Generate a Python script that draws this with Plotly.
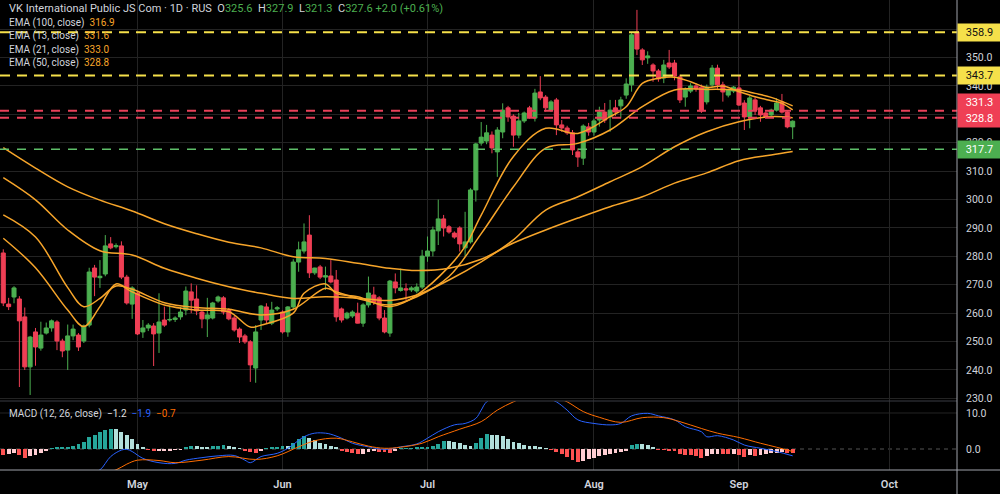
import plotly.graph_objects as go

# ---------------- data ----------------
opens = [281.2,263.2,265.7,265.0,258.7,241.1,253.4,247.7,253.0,254.8,256.9,250.2,247.0,252.0,252.3,250.2,255.8,275.9,272.5,273.8,
         284.4,283.4,283.7,272.7,263.2,267.1,253.4,254.8,255.5,253.0,257.6,257.6,257.8,258.7,261.1,267.5,265.0,260.4,258.0,258.3,
         264.3,265.4,261.1,258.3,254.4,252.0,249.9,240.7,257.6,262.2,256.5,261.5,260.4,253.4,262.2,278.0,281.9,287.5,274.2,276.3,
         272.7,273.1,271.7,261.5,258.3,259.0,260.0,256.5,262.9,266.4,265.4,258.3,253.0,271.0,268.0,268.6,268.2,267.8,269.2,280.1,
         281.9,289.0,293.2,290.4,288.2,290.0,283.0,285.1,303.4,319.9,320.6,322.7,316.8,323.8,332.3,329.4,322.7,327.7,332.3,328.7,
         337.9,336.1,331.5,335.1,326.3,325.2,323.5,316.8,314.6,325.6,323.8,328.0,330.8,329.1,332.3,333.0,336.8,340.4,359.0,352.7,
         349.9,347.4,345.3,342.8,348.1,348.1,343.2,336.1,338.2,340.0,339.6,334.4,340.4,346.3,340.4,336.8,338.2,339.3,334.0,329.1,
         335.1,332.3,330.5,329.8,331.5,334.4,330.8,325.6]
highs = [282.5,265.4,269.5,266.0,262.0,252.0,254.8,257.0,256.7,257.8,257.5,251.0,256.0,256.0,253.0,256.0,276.0,277.0,278.7,287.5,
         286.8,284.6,285.3,273.5,269.5,267.5,257.6,256.5,256.5,267.0,262.3,262.7,258.9,262.2,269.4,270.5,269.8,261.0,265.4,264.0,
         266.2,266.0,261.8,259.0,255.0,252.7,250.5,255.8,262.9,263.5,264.0,262.5,261.0,262.5,279.0,285.2,291.6,294.5,276.0,277.0,
         276.4,278.7,275.2,262.0,260.5,261.0,263.7,263.5,272.9,269.3,266.0,261.1,271.7,274.0,275.7,270.5,269.5,270.5,282.3,287.0,
         290.5,300.0,294.6,291.0,288.8,290.6,295.7,304.0,320.0,327.3,326.3,324.0,325.5,333.9,333.0,330.0,330.5,331.0,333.0,339.0,
         343.5,336.8,335.0,335.8,328.0,326.0,324.5,318.0,326.5,327.0,328.5,332.7,334.0,335.1,335.1,336.2,342.7,359.0,366.8,353.3,
         352.2,348.0,346.0,349.2,352.7,349.2,344.0,339.5,341.0,341.0,340.5,340.5,347.4,347.5,341.5,339.0,340.0,343.9,335.0,336.5,
         336.0,333.0,331.0,332.0,335.7,337.2,331.5,327.9]
lows = [262.5,261.1,263.5,234.0,240.0,231.2,241.5,246.8,252.5,253.5,247.0,244.5,240.0,250.5,246.7,249.5,255.0,266.0,268.9,273.0,
        282.5,282.8,272.0,263.0,258.0,252.3,251.3,253.7,241.4,246.0,255.2,257.0,256.9,257.7,259.3,260.0,259.3,254.7,251.6,257.8,
        263.7,259.5,257.5,253.5,249.5,249.2,235.8,235.5,254.1,256.5,255.8,260.8,252.8,251.7,261.5,274.6,281.0,272.4,273.5,272.0,
        268.2,270.5,257.0,256.7,257.8,258.3,256.4,255.2,262.0,262.9,257.5,252.9,251.7,267.0,267.6,264.6,267.5,267.0,268.5,278.1,
        280.0,284.0,287.0,288.0,286.2,281.7,279.9,284.5,299.3,319.0,319.5,316.3,308.0,321.6,327.4,318.6,321.6,327.0,328.5,327.5,
        335.0,331.0,330.8,322.7,323.9,322.8,315.7,311.5,312.2,322.5,322.5,325.7,327.0,323.9,329.5,328.6,335.5,338.0,350.9,347.4,
        347.8,341.5,341.5,341.0,346.0,342.0,334.0,332.7,337.5,338.0,330.5,333.5,339.5,339.0,334.5,336.0,337.5,333.0,324.5,325.1,
        329.8,327.4,328.8,329.3,331.0,330.3,325.1,321.3]
closes = [263.6,262.3,268.9,257.3,241.1,251.6,248.1,252.3,254.8,257.3,250.2,246.7,252.0,254.4,248.1,255.5,274.5,272.7,273.0,283.7,
          283.0,283.8,272.7,263.6,268.9,252.7,254.8,255.8,252.7,256.9,255.8,257.8,258.3,260.4,267.8,264.6,260.8,258.0,259.4,263.6,
          265.7,260.4,258.0,254.1,251.6,249.9,241.8,253.4,262.5,257.6,261.1,261.9,253.4,262.2,278.0,282.3,285.1,274.2,275.9,272.7,
          273.2,271.0,258.7,257.6,260.0,260.4,256.5,262.9,267.1,263.9,258.3,253.4,271.3,268.9,268.9,268.2,268.9,269.2,280.1,281.9,
          289.3,293.2,290.0,288.6,286.8,284.4,285.1,303.4,319.6,322.0,323.5,318.2,324.5,331.5,329.1,322.7,327.7,330.5,329.1,337.5,
          335.8,332.3,334.4,326.3,325.2,323.5,317.5,315.0,325.9,323.8,327.7,330.8,328.0,331.5,330.8,335.1,340.7,358.0,353.0,349.2,
          350.6,345.3,342.5,347.4,346.7,343.5,335.1,338.9,340.0,339.0,331.2,339.6,346.3,340.4,337.9,338.6,339.6,333.3,329.1,335.8,
          331.5,329.8,329.1,331.5,334.0,330.8,325.6,327.6]
bars = list(range(len(closes)))

ema13_bar = [0,6,12,15,18,21,24,30,36,42,46,48,54,56,60,62,66,72,77,83,86,89,95,101,107,113,116,119,122,125,128,131,134,137,140,143,145,147]
ema13_val = [286.4,276.0,261.1,255.3,262.3,270.3,267.5,262.9,261.1,260.5,255.1,255.8,260.0,267.0,270.3,267.0,265.8,262.3,266.4,276.4,283.5,294.5,
             315.2,325.1,323.3,329.2,332.7,340.9,342.7,343.1,341.5,339.5,340.0,338.0,336.2,334.8,333.9,331.6]
ema21_bar = [0,6,12,15,18,21,24,30,36,42,48,54,60,62,66,72,77,83,89,95,101,107,113,119,125,131,134,137,140,143,147]
ema21_val = [294.6,286.8,269.0,262.3,265.2,269.6,268.4,263.7,262.0,261.4,259.4,261.4,268.8,267.5,265.2,262.9,265.8,272.9,288.0,304.5,318.1,319.8,
             324.5,332.7,338.6,338.8,338.8,338.6,337.4,336.0,333.0]
ema50_bar = [0,6,12,18,24,30,36,42,48,54,60,66,72,77,83,89,95,101,107,113,119,125,131,137,143,147]
ema50_val = [307.7,299.9,289.3,282.0,280.5,275.8,272.3,269.3,267.0,265.2,265.8,265.3,264.5,266.4,271.7,278.1,285.8,296.3,301.0,306.3,311.6,318.6,
             323.9,327.4,329.2,328.8]
ema100_bar = [0,6,12,18,24,30,36,42,48,54,60,66,72,77,83,89,95,101,107,113,119,125,131,137,143,147]
ema100_val = [318.3,311.1,304.5,299.8,296.0,291.5,288.0,285.0,283.0,279.9,279.3,277.6,275.8,275.0,275.8,279.0,284.7,289.3,293.5,297.5,301.0,305.8,
              309.4,313.7,315.7,316.9]

macd_hist = [-1.6,-1.4,-1.2,-1.6,-2.5,-2.0,-1.8,-1.0,-0.4,0.2,0.3,0.3,0.6,0.9,1.3,2.0,3.3,4.0,4.7,5.3,
             5.6,5.5,4.8,3.9,2.7,1.3,0.3,-0.2,-0.6,-0.5,-0.4,-0.3,-0.2,-0.1,0.6,0.9,0.7,0.6,0.5,0.7,
             0.9,1.0,0.8,0.5,0.1,-0.3,-0.7,-1.2,-0.6,0.2,0.3,0.6,0.9,0.7,1.7,2.8,3.5,3.1,2.4,1.8,
             1.3,0.8,0.3,-0.4,-0.8,-1.2,-1.5,-1.4,-0.9,-0.5,-0.7,-0.9,-1.2,-0.3,0.1,0.1,0.2,0.3,0.5,0.6,
             0.9,1.5,2.3,2.2,2.0,1.6,1.2,0.8,1.6,3.0,4.1,4.0,3.9,3.7,2.8,2.0,1.6,1.2,0.9,0.8,
             0.5,0.1,-0.2,-0.8,-1.4,-2.2,-3.0,-3.5,-3.2,-2.8,-2.4,-2.0,-1.6,-1.4,-1.0,-0.7,-0.4,1.0,1.5,1.4,
             1.1,0.3,-0.1,-0.2,-0.3,-0.5,-1.4,-1.6,-1.7,-1.9,-2.5,-2.0,-1.4,-1.3,-1.4,-1.5,-1.3,-1.7,-2.1,-1.8,
             -1.9,-1.6,-1.5,-1.2,-1.0,-0.9,-1.1,-1.2]
macd_bar = [0,6,12,16,18,20,22,23,24,26,29,32,34,37,40,43,45,46,48,51,53,56,58,60,61,63,65,68,71,74,77,79,81,84,86,88,89,90,
            93,96,99,101,103,105,107,110,113,115,117,120,122,125,127,130,131,133,136,138,141,144,147]
macd_val = [-9.5,-9.8,-8.6,-7.0,-5.8,-2.1,-0.3,-0.1,-0.7,-2.6,-3.8,-4.0,-3.1,-2.4,-1.9,-1.8,-3.1,-3.8,-2.1,-1.2,0.2,3.4,4.4,4.4,4.1,3.0,
            1.6,0.6,-0.1,0.6,1.4,3.0,4.8,6.7,7.1,8.5,10.8,13.1,15.5,17.2,16.5,14.3,13.1,10.8,8.1,7.1,6.7,7.1,9.2,9.9,9.2,8.1,6.2,4.8,3.4,
            3.7,2.5,1.1,0.2,-0.7,-1.9]
signal_bar = [0,8,14,18,21,23,25,29,32,37,42,47,51,55,58,62,65,68,71,74,78,81,85,89,92,95,98,101,103,105,108,111,115,119,123,126,
              130,133,137,141,144,147]
signal_val = [-8.0,-9.0,-8.2,-7.0,-5.8,-4.2,-3.1,-3.2,-3.8,-3.1,-2.1,-2.9,-1.9,0.6,2.3,3.0,2.0,0.8,0.2,0.5,1.6,3.4,5.5,7.6,10.8,13.1,
              14.8,15.0,14.2,13.1,10.4,8.8,7.4,8.7,8.7,7.6,5.7,4.4,3.2,1.6,0.5,-0.7]

month_labels = ["May", "Jun", "Jul", "Aug", "Sep", "Oct"]
month_first_bar = [25, 52, 79, 110, 137, 165]

price_ticks = [230, 240, 250, 260, 270, 280, 290, 300, 310, 320, 330, 340, 350, 360, 370]
hidden_price_ticks = [330, 360]   # fully covered by the price tags in the reference

level_yellow = [358.9, 343.7]
level_red = [331.3, 328.8]
level_green = [317.7]

# ---------------- styling ----------------
BG = "#000000"
GRID = "#232323"
TXT = "#d1d4dc"
UP = "#4caf50"
DN = "#ef3f55"
EMA_C = "#f7a52a"
W, H = 1000, 494
L_M, R_M, T_M, B_M = 0, 43, 0, 24
PW, PH = W - L_M - R_M, H - T_M - B_M
split = 1 - 401 / PH

fig = go.Figure()

fig.add_trace(go.Candlestick(
    x=bars, open=opens, high=highs, low=lows, close=closes,
    increasing=dict(line=dict(color=UP, width=1), fillcolor=UP),
    decreasing=dict(line=dict(color=DN, width=1), fillcolor=DN),
    whiskerwidth=0, xaxis="x", yaxis="y", showlegend=False, hoverinfo="skip"))

for bx, by in [(ema100_bar, ema100_val), (ema50_bar, ema50_val), (ema21_bar, ema21_val), (ema13_bar, ema13_val)]:
    fig.add_trace(go.Scatter(x=bx, y=by, mode="lines", line=dict(color=EMA_C, width=1.5, shape="spline", smoothing=1.0),
                             xaxis="x", yaxis="y", showlegend=False, hoverinfo="skip"))

hist_colors = []
for i, v in enumerate(macd_hist):
    prev = macd_hist[i - 1] if i > 0 else v
    if v >= 0:
        hist_colors.append("#26a69a" if v >= prev else "#b2dfdb")
    else:
        hist_colors.append("#ff5252" if v <= prev else "#ffcdd2")

fig.add_trace(go.Bar(x=bars, y=macd_hist, marker=dict(color=hist_colors, line=dict(width=0)), width=0.72,
                     xaxis="x2", yaxis="y2", showlegend=False, hoverinfo="skip"))
fig.add_trace(go.Scatter(x=macd_bar, y=macd_val, mode="lines", line=dict(color="#2962ff", width=1, shape="spline"),
                         xaxis="x2", yaxis="y2", showlegend=False, hoverinfo="skip", cliponaxis=True))
fig.add_trace(go.Scatter(x=signal_bar, y=signal_val, mode="lines", line=dict(color="#ff6d00", width=1, shape="spline"),
                         xaxis="x2", yaxis="y2", showlegend=False, hoverinfo="skip", cliponaxis=True))

shapes = []
for v in level_yellow:
    shapes.append(dict(type="line", xref="paper", x0=0, x1=1, yref="y", y0=v, y1=v,
                       line=dict(color="#f5e04a", width=2, dash="10px,7px"), layer="above"))
for v in level_red:
    shapes.append(dict(type="line", xref="paper", x0=0, x1=1, yref="y", y0=v, y1=v,
                       line=dict(color="#e8415a", width=2, dash="9px,8px"), layer="above"))
for v in level_green:
    shapes.append(dict(type="line", xref="paper", x0=0, x1=1, yref="y", y0=v, y1=v,
                       line=dict(color="#5fbf6a", width=1.5, dash="9px,8px"), layer="above"))
shapes.append(dict(type="line", xref="paper", x0=0, x1=1, yref="y2", y0=10, y1=10, line=dict(color=GRID, width=1), layer="below"))
shapes.append(dict(type="line", xref="paper", x0=0, x1=1, yref="y2", y0=0, y1=0, line=dict(color="#555555", width=1, dash="4px,4px"), layer="below"))
shapes.append(dict(type="line", xref="paper", x0=0, x1=1, yref="paper", y0=split, y1=split, line=dict(color="#3a3d45", width=1)))
shapes.append(dict(type="line", xref="paper", x0=0, x1=1 + R_M / PW, yref="paper", y0=0, y1=0, line=dict(color="#a0a3ab", width=1)))
shapes.append(dict(type="line", xref="paper", x0=1, x1=1, yref="paper", y0=-B_M / PH, y1=1, line=dict(color="#a0a3ab", width=1)))

FONT = "Roboto"
annotations = []

def px_x(px):
    return px / PW

def px_y(py):
    return 1 - py / PH

def legend_text(text, py, size):
    annotations.append(dict(text=text, x=px_x(7), y=px_y(py), xref="paper", yref="paper", xanchor="left", yanchor="middle",
                            showarrow=False, font=dict(family=FONT, size=size, color=TXT), align="left"))

SP = "\u00a0"
hdr = (f"VK International Public JS Com · 1D · RUS{SP*2}"
       f"O<span style='color:{UP}'>325.6</span>{SP*2}H<span style='color:{UP}'>327.9</span>{SP*2}"
       f"L<span style='color:{UP}'>321.3</span>{SP*2}C<span style='color:{UP}'>327.6</span>{SP}"
       f"<span style='color:{UP}'>+2.0 (+0.61%)</span>")
legend_text(hdr, 9, 11)
ema_labels = [("EMA (100, close)", "316.9"), ("EMA (13, close)", "331.6"), ("EMA (21, close)", "333.0"), ("EMA (50, close)", "328.8")]
for k, (lab, val) in enumerate(ema_labels):
    legend_text(f"{lab}{SP*2}<span style='color:{EMA_C}'>{val}</span>", 22.7 + 13.5 * k, 10)
legend_text((f"MACD (12, 26, close){SP*2}<span style='color:#e0e0e0'>\u22121.2</span>{SP*2}"
             f"<span style='color:#2962ff'>\u22121.9</span>{SP*2}<span style='color:#ff6d00'>\u22120.7</span>"), 414, 10)

tags = [(358.9, "#f5e04a", "#111111", 0), (343.7, "#f5e04a", "#111111", 0),
        (331.3, "#ef3f55", "#ffffff", 8), (328.8, "#ef3f55", "#ffffff", -1), (317.7, "#4caf50", "#ffffff", 0)]
for v, bg, fc, ys in tags:
    annotations.append(dict(text=f"{v:.1f}", x=1, xref="paper", y=v, yref="y", xanchor="left", yanchor="middle",
                            yshift=ys, showarrow=False, bgcolor=bg, width=41, height=15, borderpad=1,
                            font=dict(family=FONT, size=11, color=fc), align="center"))

price_text = ["" if t in hidden_price_ticks else f"{t:.1f}" for t in price_ticks]

fig.update_layout(
    width=W, height=H, margin=dict(l=L_M, r=R_M, t=T_M, b=B_M),
    paper_bgcolor=BG, plot_bgcolor=BG, showlegend=False, bargap=0, boxgap=0.25, boxgroupgap=0,
    shapes=shapes, annotations=annotations,
    xaxis=dict(domain=[0, 1], anchor="y", range=[-0.61, 177.6], tickvals=month_first_bar, showticklabels=False,
               showgrid=True, gridcolor=GRID, zeroline=False, rangeslider=dict(visible=False), ticks=""),
    xaxis2=dict(domain=[0, 1], anchor="y2", matches="x", range=[-0.61, 177.6], tickvals=month_first_bar,
                ticktext=month_labels, showgrid=True, gridcolor=GRID, zeroline=False, ticks="",
                tickfont=dict(family=FONT, size=11, color=TXT, weight=600), ticklabelstandoff=6),
    yaxis=dict(domain=[split, 1], anchor="x", side="right", range=[229.08, 370.28], tickvals=price_ticks,
               ticktext=price_text, showgrid=True, gridcolor=GRID, zeroline=False, ticks="",
               tickfont=dict(family=FONT, size=10.5, color=TXT), ticklabelstandoff=8),
    yaxis2=dict(domain=[0, split], anchor="x2", side="right", range=[-5.83, 13.33], tickvals=[0, 10],
                tickformat=".1f", showgrid=False, zeroline=False, ticks="",
                tickfont=dict(family=FONT, size=10.5, color=TXT), ticklabelstandoff=8),
)

fig.write_html("out.html")
